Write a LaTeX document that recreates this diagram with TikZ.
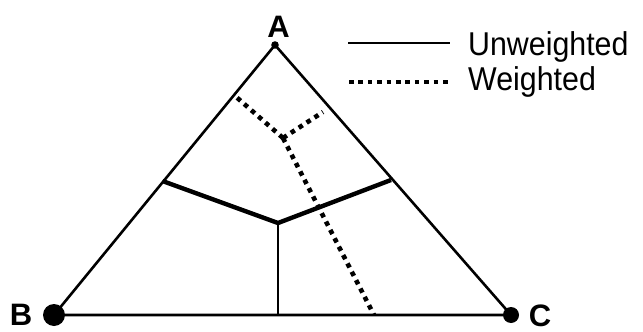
\documentclass[tikz,border=0pt]{standalone}
\usepackage{fontspec}
\setmainfont{Liberation Sans}
\begin{document}
\begin{tikzpicture}[x=1pt,y=-1pt,
  edge/.style={line width=2.6pt},
  unw/.style={line width=4.4pt},
  wtd/.style={line width=4.6pt,dash pattern=on 4.6pt off 4.8pt},
  vlabel/.style={font=\fontsize{31}{35}\selectfont\bfseries,inner sep=0pt,anchor=base},
  legtext/.style={font=\fontsize{33}{37}\selectfont,inner sep=0pt,anchor=base west,xscale=0.92}]
\useasboundingbox (0,0) rectangle (643,332);
% vertices
\coordinate (A) at (275,45);
\coordinate (B) at (54,315);
\coordinate (C) at (511,315);
\draw[edge,line join=round] (A) -- (B) -- (C) -- cycle;
\fill (A) circle (3.8);
\fill (B) circle (11);
\fill (C) circle (8);
\node[vlabel] (lA) at (278.5,37) {A};
\node[vlabel] (lB) at (21,325) {B};
\node[vlabel] (lC) at (540,326) {C};
% unweighted partition
\coordinate (u0) at (278,223);
\coordinate (u1) at (162.5,181);
\coordinate (u2) at (391,180);
\coordinate (u3) at (278,315);
\draw[unw] (u1) -- (u0) -- (u2);
\draw[edge] (u0) -- (u3);
% weighted partition
\coordinate (w0) at (283,138);
\coordinate (w1) at (234,95);
\coordinate (w2) at (323,112);
\coordinate (w3) at (374,315);
\draw[wtd] (w0) -- (w1);
\draw[wtd] (w0) -- (w2);
\draw[wtd] (w0) -- (w3);
% legend
\coordinate (l1a) at (348,43);
\coordinate (l1b) at (450,43);
\coordinate (l2a) at (349,82);
\coordinate (l2b) at (450,82);
\draw[edge] (l1a) -- (l1b);
\draw[wtd] (l2a) -- (l2b);
\node[legtext] (tU) at (468,55) {Unweighted};
\node[legtext] (tW) at (468,90) {Weighted};
\end{tikzpicture}
\end{document}
